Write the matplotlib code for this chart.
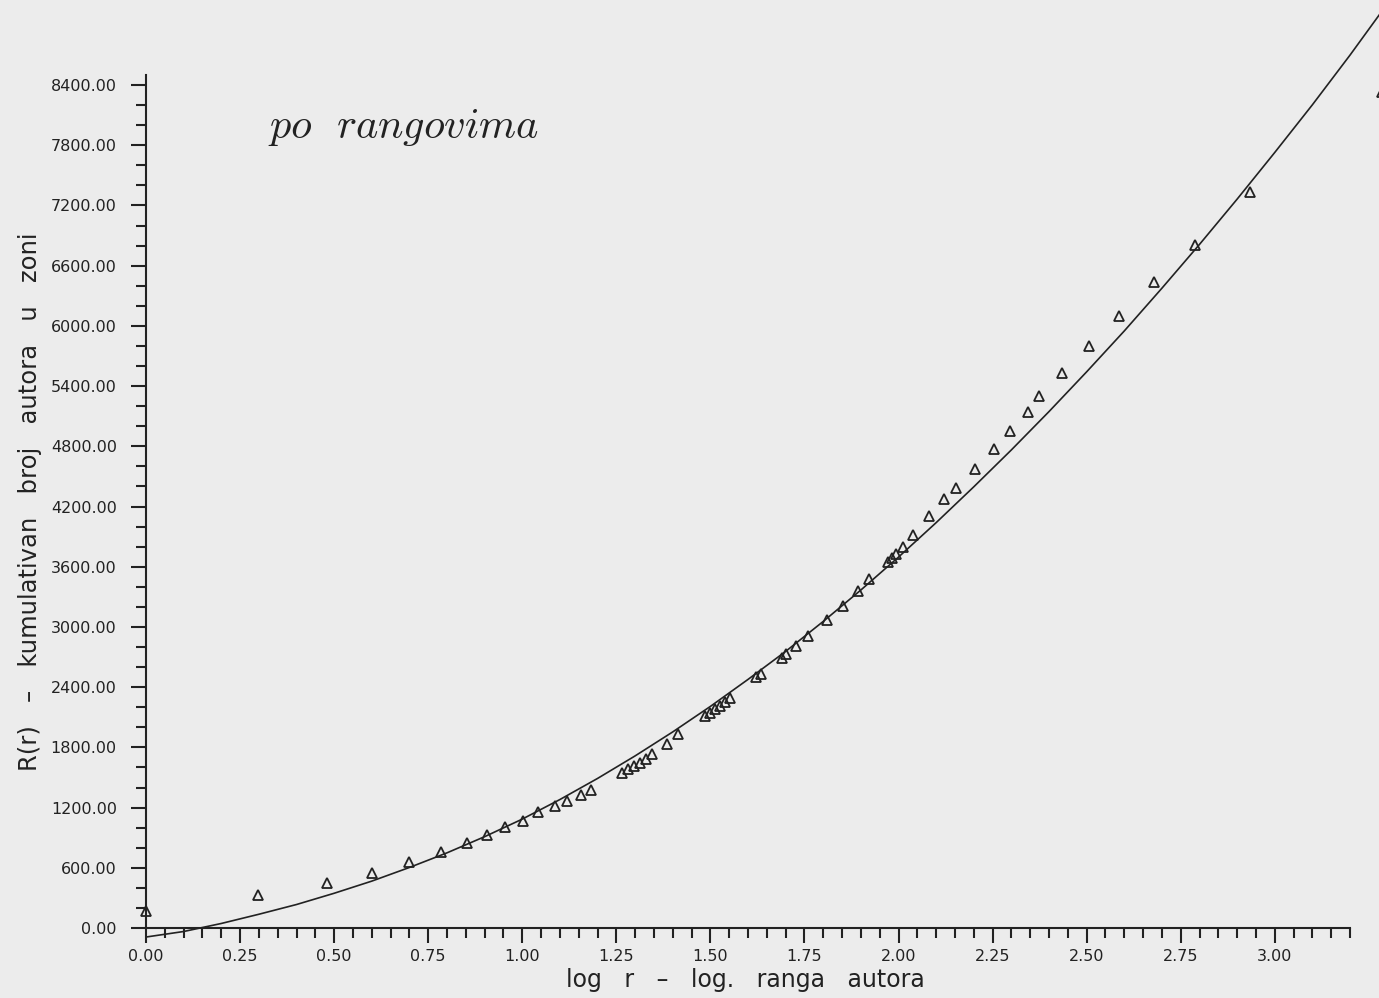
import numpy as np
import matplotlib.pyplot as plt
from matplotlib.ticker import MultipleLocator, FormatStrFormatter

plt.rcParams['mathtext.fontset'] = 'cm'

# observed points (log r, R(r))
log_r = [0.0, 0.298, 0.482, 0.60, 0.70, 0.783, 0.854, 0.905, 0.953, 1.003,
         1.043, 1.086, 1.118, 1.155, 1.184, 1.264, 1.280, 1.296, 1.312, 1.328,
         1.344, 1.384, 1.413, 1.485, 1.499, 1.512, 1.525, 1.538, 1.552, 1.62,
         1.635, 1.69, 1.70, 1.727, 1.76, 1.81, 1.852, 1.892, 1.922, 1.972,
         1.983, 1.994, 2.012, 2.039, 2.08, 2.12, 2.153, 2.204, 2.255, 2.296,
         2.345, 2.374, 2.435, 2.507, 2.587, 2.68, 2.787, 2.933, 3.285]
R_obs = [170, 329, 449, 549, 658, 758, 848, 928, 1008, 1067,
         1157, 1217, 1267, 1327, 1377, 1546, 1586, 1616, 1646, 1686,
         1736, 1836, 1935, 2115, 2145, 2185, 2215, 2255, 2295, 2504,
         2534, 2694, 2734, 2813, 2913, 3073, 3213, 3362, 3482, 3652,
         3691, 3731, 3801, 3921, 4101, 4270, 4380, 4570, 4769, 4949,
         5138, 5298, 5527, 5797, 6096, 6435, 6804, 7333, 8330]

# fitted curve
fit_x = [0.0, 0.1, 0.2, 0.3, 0.4, 0.5, 0.6, 0.7, 0.8, 0.9,
         1.0, 1.1, 1.2, 1.3, 1.4, 1.5, 1.6, 1.7, 1.8, 1.9,
         2.0, 2.1, 2.2, 2.3, 2.4, 2.5, 2.6, 2.7, 2.8, 2.9,
         3.0, 3.1, 3.2, 3.3]
fit_y = [-90, -35, 45, 137, 234, 346, 467, 603, 749, 910,
         1085, 1280, 1490, 1715, 1954, 2208, 2477, 2756, 3055, 3368,
         3696, 4039, 4396, 4764, 5146, 5542, 5949, 6375, 6812, 7263,
         7728, 8203, 8698, 9214]

bg = '#ececec'
ink = '#222222'

fig = plt.figure(figsize=(13.79, 9.98), dpi=100, facecolor=bg)
ax = fig.add_axes([146/1379, 1-928/998, (1350-146)/1379, (928-75)/998])
ax.set_facecolor(bg)

ax.plot(fit_x, fit_y, '-', color=ink, lw=1.2, clip_on=False)
ax.plot(log_r, R_obs, '^', ms=6.5, mfc='none', mec=ink, mew=1.3,
        clip_on=False, ls='none')

ax.set_xlim(0, 3.2)
ax.set_ylim(0, 8500)
for s in ['top', 'right']:
    ax.spines[s].set_visible(False)
for s in ['left', 'bottom']:
    ax.spines[s].set_linewidth(1.5)
    ax.spines[s].set_color(ink)

ax.xaxis.set_minor_locator(MultipleLocator(0.05))
ax.yaxis.set_minor_locator(MultipleLocator(200))
ax.xaxis.set_major_formatter(FormatStrFormatter('%.2f'))
ax.yaxis.set_major_formatter(FormatStrFormatter('%.2f'))
ax.set_xticks(np.arange(0, 3.01, 0.25))
ax.set_yticks(np.arange(0, 8401, 600))
ax.tick_params(which='major', length=11, width=1.5, color=ink,
               labelsize=11.5, labelcolor=ink)
ax.tick_params(axis='x', which='major', pad=4)
ax.tick_params(axis='y', which='major', pad=10)
ax.tick_params(which='minor', length=7, width=1.5, color=ink)

ax.set_xlabel('log   r   –   log.   ranga   autora', fontsize=17, color=ink)
ax.xaxis.set_label_coords(0.4975, -0.047)
ax.set_ylabel('R(r)   –   kumulativan   broj   autora   u   zoni',
              fontsize=17.5, color=ink)
ax.yaxis.set_label_coords(-0.0864, 0.5)

ax.text(0.325, 7980, r'$po\ \ rangovima$', fontsize=30.5, color=ink,
        ha='left', va='center')

fig.savefig('out.png', dpi=100, facecolor=bg)
